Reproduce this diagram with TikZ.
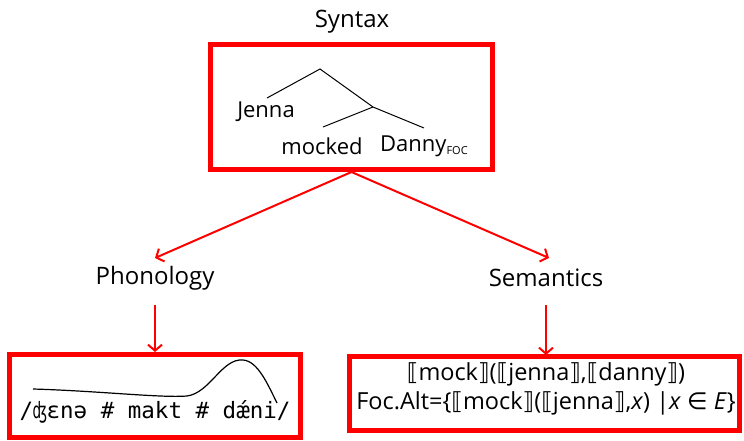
\documentclass[tikz,border=0pt]{standalone}
\usepackage{fontspec}
\setmainfont{Open Sans}
\newfontfamily\dvs{DejaVu Sans}
\newfontfamily\monof{DejaVu Sans Mono}
\usetikzlibrary{arrows.meta,calc}
\newcommand{\lb}{{\dvs ⟦}}
\newcommand{\rb}{{\dvs ⟧}}
\tikzset{
  redbox/.style={draw=red, line width=5pt, rectangle, inner sep=0pt},
  label/.style={font=\fontsize{24}{28}\selectfont, inner sep=0pt},
  treetxt/.style={font=\fontsize{22}{26}\selectfont, inner sep=0pt},
  redarrow/.style={draw=red, line width=2pt, -{Straight Barb[length=6pt,width=14pt,line width=2pt]}},
  treeline/.style={draw=black, line width=1pt}
}
\begin{document}
\begin{tikzpicture}[x=1pt,y=-1pt]
\useasboundingbox (0,0) rectangle (744,441);
% labels
\node[label] (synlab) at (352,22) {Syntax};
\node[label] (phon) at (155,278) {Phonology};
\node[label] (sem) at (546,278) {Semantics};
% boxes
\node[redbox, minimum width=282pt, minimum height=124.5pt] (syn) at (351.5,107.25) {};
\node[redbox, minimum width=291pt, minimum height=83pt] (pbox) at (155,396) {};
\node[redbox, minimum width=390pt, minimum height=73.5pt] (sbox) at (544.5,393.25) {};
% tree
\coordinate (root) at (320,69);
\coordinate (ja) at (267,98);
\coordinate (vp) at (373,107);
\coordinate (ma) at (323,127);
\coordinate (da) at (424,128);
\draw[treeline] (ja) -- (root) -- (vp) -- (da);
\draw[treeline] (vp) -- (ma);
\node[treetxt] (jenna) at (266,112) {Jenna};
\node[treetxt] (mocked) at (322,146) {mocked};
\node[treetxt, anchor=west] (danny) at (380,146) {Danny\textsubscript{\fontsize{11}{12}\selectfont FOC}};
% arrows
\coordinate (pt) at (155,258);
\coordinate (st) at (549,258);
\draw[redarrow] (syn.south) -- (pt);
\draw[redarrow] (syn.south) -- (st);
\coordinate (pa) at (155,305);
\coordinate (sa) at (546,305);
\coordinate (sb) at (546,355);
\draw[redarrow] (pa) -- (pbox.north);
\draw[redarrow] (sa) -- (sb);
% phonology content
\coordinate (c0) at (33,389);
\coordinate (c1) at (187,396);
\coordinate (c2) at (243,360);
\coordinate (c3) at (277,403);
\draw[line width=1.2pt] (c0) .. controls (100,391) and (160,398) .. (c1)
  .. controls (210,393) and (222,358) .. (c2)
  .. controls (258,361) and (268,385) .. (c3);
\node[font=\monof\fontsize{22.5}{26}\selectfont, inner sep=0pt] (ipa) at (155,412) {/ʤɛnə \# makt \# dǽni/};
% semantics content
\node[font=\fontsize{23.5}{29}\selectfont, align=center, inner sep=0pt] (sem1) at (546,389)
  {\lb mock\rb(\lb jenna\rb,\lb danny\rb)\\
   Foc.Alt=\{\lb mock\rb(\lb jenna\rb,\textit{x}) |\textit{x} {\dvs ∈} \textit{E}\}};
\end{tikzpicture}
\end{document}
